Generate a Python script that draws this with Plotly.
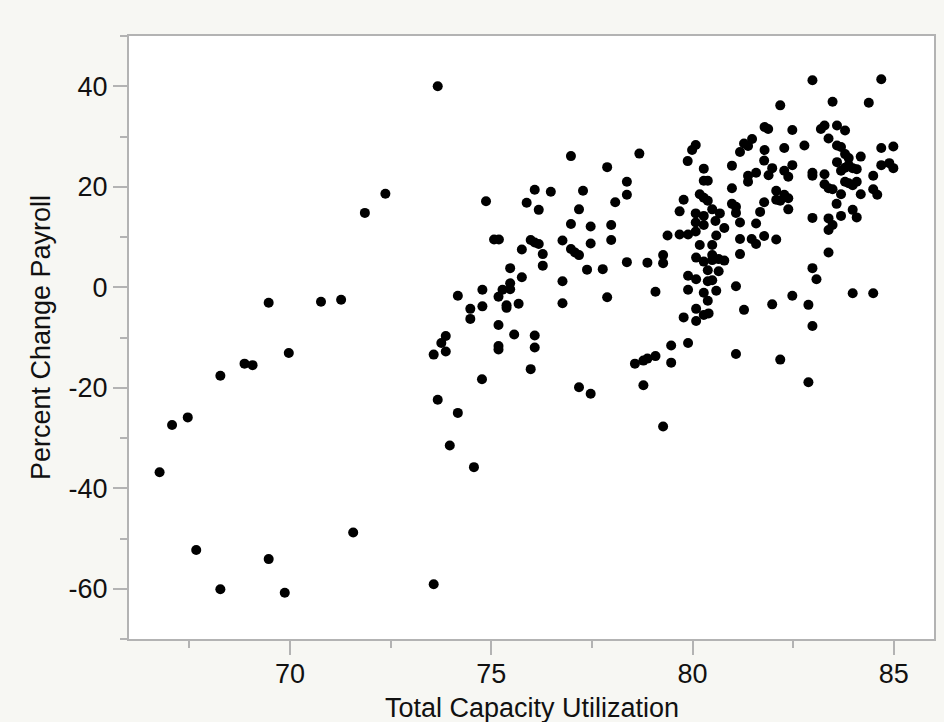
import plotly.graph_objects as go

capacity_util = [
    66.76, 67.07, 67.46, 67.67, 68.27, 68.27, 68.87, 69.07, 69.47, 69.47, 69.87, 69.97, 70.77, 71.27, 71.57, 71.86, 72.37, 73.57, 73.67,
    73.57, 73.76, 73.87, 73.87, 73.67, 73.97, 74.17, 74.57, 74.17, 74.48, 74.48, 74.78, 74.78, 74.77, 74.87, 75.07, 75.19, 75.18, 75.18,
    75.18, 75.18, 75.28, 75.38, 75.38, 75.47, 75.47, 75.47, 75.57, 75.68, 75.76, 75.76, 75.88,
    75.98, 76.08, 76.18, 75.98, 76.08, 76.08, 76.28, 76.28, 76.18, 76.08, 76.48, 76.77, 76.77, 76.77, 76.98, 77.08, 77.18, 76.98, 76.98,
    77.18, 77.28, 77.18, 77.47, 77.38, 77.77, 77.47, 77.47, 77.98, 77.98, 77.88, 77.88, 78.08, 78.37, 78.37, 78.37, 78.68, 78.57, 78.78,
    78.88, 79.08, 78.78, 78.88, 79.08, 79.27, 79.27, 79.27, 79.47, 79.47,
    79.38, 79.68, 79.89, 79.68, 79.78, 79.88, 79.99, 80.08, 79.89, 79.78, 79.89, 80.09, 79.89, 80.08, 80.28, 80.49, 80.68, 80.08, 80.28,
    80.57, 80.08, 80.59, 80.79, 80.18, 80.49, 80.09, 80.28, 80.49, 80.49, 80.65, 80.79, 80.38, 80.65, 80.38, 80.49, 80.28, 80.59, 80.38,
    80.09, 80.28, 80.40, 80.09, 80.28, 80.28, 80.38, 80.18, 80.28, 80.38,
    80.98, 80.98, 80.98, 81.08, 81.08, 81.08, 81.08, 81.18, 81.18, 81.18, 81.18, 81.28, 81.38, 81.48, 81.28, 81.38, 81.58, 81.38, 81.47,
    81.58, 81.58, 81.68, 81.78, 81.78, 81.78, 81.79, 81.79, 81.88, 81.98, 81.89, 81.98, 82.08, 82.08, 82.08, 82.18, 82.18, 82.18, 82.28,
    82.28, 82.38, 82.28, 82.38, 82.38, 82.48, 82.48, 82.48,
    82.78, 82.88, 82.88, 82.98, 82.98, 83.08, 82.98, 82.98, 82.98, 82.98, 83.19, 83.28, 83.28, 83.28, 83.38, 83.48, 83.38, 83.38, 83.38,
    83.69, 83.48, 83.38, 83.48, 83.58, 83.59, 83.79, 83.59, 83.69, 83.79, 83.88, 83.59, 83.88, 83.98, 84.08, 83.79, 83.69, 84.18, 83.79,
    83.88, 83.98, 84.08, 83.69, 84.18, 83.98, 84.08, 83.98, 84.38, 84.49, 84.49, 84.59, 84.49, 84.69, 84.69, 84.99, 84.69, 84.89, 84.99,
]

pct_change_payroll = [
    -36.8, -27.4, -25.9, -52.3, -17.6, -60.1, -15.2, -15.5, -54.1, -3.1, -60.8, -13.1, -2.9, -2.5, -48.8, 14.8, 18.6, -59.1, 40.0,
    -13.4, -11.1, -9.7, -12.8, -22.4, -31.5, -25.0, -35.8, -1.7, -4.3, -6.3, -3.8, -0.5, -18.3, 17.1, 9.5, 9.5, -1.9, -7.5,
    -11.7, -12.4, -0.5, -3.6, -4.1, 3.8, 0.8, -0.4, -9.4, -3.3, 2.0, 7.5, 16.8,
    9.4, 8.9, 8.6, -16.3, -9.6, -12.0, 4.3, 6.6, 15.4, 19.4, 19.0, 1.2, -3.2, 9.3, 7.6, 6.9, 6.4, 12.6, 26.1,
    15.5, 19.2, -19.9, -21.2, 3.5, 3.6, 12.1, 8.7, 12.4, 9.4, 23.9, -2.0, 16.9, 21.0, 18.4, 5.0, 26.6, -15.2, -14.6,
    -14.2, -13.7, -19.5, 4.9, -0.9, 6.4, 4.8, -27.7, -11.6, -15.0,
    10.3, 10.5, 10.5, 15.1, 17.4, 25.1, 27.3, 28.3, -11.1, -6.0, 2.3, 1.6, -0.5, 14.7, 14.2, 15.5, 14.7, 12.9, 12.4,
    13.2, 11.1, 10.3, 11.8, 8.4, 8.4, 5.9, 5.1, 6.4, 5.4, 5.6, 5.3, 3.4, 3.2, 1.2, 1.4, -1.1, -0.7, -2.7,
    -4.3, -5.5, -5.2, -6.7, 23.6, 21.2, 21.2, 18.5, 17.8, 17.2,
    24.2, 19.7, 16.6, 16.0, 14.8, 0.2, -13.3, 6.6, 9.6, 12.9, 26.9, 28.6, 28.1, 29.5, -4.5, 22.2, 22.8, 21.0, 9.6,
    8.6, 12.7, 15.0, 10.2, 16.9, 25.2, 27.3, 31.9, 31.5, 23.7, 22.3, -3.4, 9.5, 19.2, 17.4, 17.2, 36.2, -14.4, 27.7,
    23.2, 22.0, 18.4, 17.7, 15.5, 31.3, 24.3, -1.7,
    28.2, -18.9, -3.5, -7.7, 3.8, 1.6, 13.8, 22.8, 22.2, 41.2, 31.5, 32.2, 22.5, 20.5, 19.7, 19.5, 29.6, 6.9, 13.7,
    14.2, 12.4, 11.4, 36.9, 16.6, 32.2, 31.2, 28.2, 27.9, 26.5, 25.7, 24.9, 24.3, 23.7, 23.5, 23.8, 23.2, 26.0, 21.0,
    20.7, 20.3, 21.0, 18.5, 18.5, 15.4, 13.9, -1.2, 36.7, 22.2, 19.5, 18.4, -1.2, 41.4, 27.7, 28.0, 24.3, 24.7, 23.7,
]

x_ticks = [70, 75, 80, 85]
y_ticks = [-60, -40, -20, 0, 20, 40]

FONT = "Liberation Sans, Arial, Helvetica, sans-serif"
AXIS_GRAY = "#b3b3b3"
TEXT_SIZE = 27

fig = go.Figure(
    go.Scatter(
        x=capacity_util,
        y=pct_change_payroll,
        mode="markers",
        marker=dict(color="black", size=10, line=dict(width=0)),
        hoverinfo="x+y",
    )
)

common_axis = dict(
    showgrid=False,
    zeroline=False,
    showline=True,
    mirror=True,
    linecolor=AXIS_GRAY,
    linewidth=2,
    ticks="outside",
    ticklen=14,
    tickwidth=2,
    tickcolor=AXIS_GRAY,
    tickfont=dict(family=FONT, size=TEXT_SIZE, color="#111111"),
)

fig.update_xaxes(
    **common_axis,
    range=[66, 86],
    tickvals=x_ticks,
    ticktext=[str(v) for v in x_ticks],
    ticklabelstandoff=-4,
    minor=dict(ticks="outside", dtick=2.5, tick0=0, ticklen=7, tickwidth=2, tickcolor=AXIS_GRAY),
)
fig.update_yaxes(
    **common_axis,
    range=[-70, 50],
    tickvals=y_ticks,
    ticktext=[str(v) for v in y_ticks],
    minor=dict(ticks="outside", dtick=10, tick0=0, ticklen=7, tickwidth=2, tickcolor=AXIS_GRAY),
    title=dict(text="Percent Change Payroll", font=dict(family=FONT, size=TEXT_SIZE, color="#111111"), standoff=10),
)

fig.add_annotation(
    text="Total Capacity Utilization",
    xref="paper", yref="paper", x=0.5, y=0,
    xanchor="center", yanchor="top", yshift=-52,
    showarrow=False,
    font=dict(family=FONT, size=TEXT_SIZE, color="#111111"),
)

fig.update_layout(
    width=944,
    height=722,
    margin=dict(l=129, r=8, t=36, b=83),
    paper_bgcolor="#f7f7f3",
    plot_bgcolor="white",
    showlegend=False,
)

fig.write_html("out.html")
